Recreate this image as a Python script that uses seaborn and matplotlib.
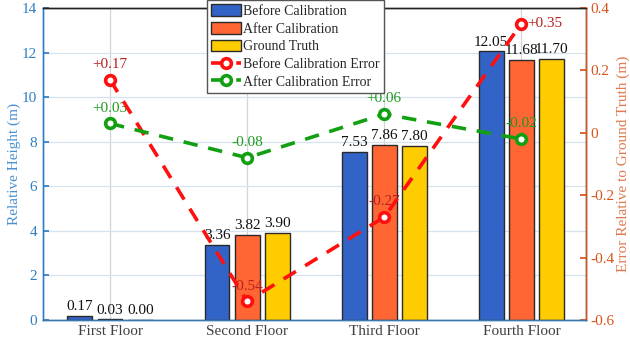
import numpy as np
import pandas as pd
import matplotlib
matplotlib.use("Agg")
import matplotlib.pyplot as plt
import seaborn as sns
from matplotlib.patches import Patch

floors = ["First Floor", "Second Floor", "Third Floor", "Fourth Floor"]
before_cal = [0.17, 3.36, 7.53, 12.05]
after_cal = [0.03, 3.82, 7.86, 11.68]
ground_truth = [0.00, 3.90, 7.80, 11.70]
before_err = [0.17, -0.54, -0.27, 0.35]
after_err = [0.03, -0.08, 0.06, -0.02]
series_names = ["Before Calibration", "After Calibration", "Ground Truth"]
err_names = ["Before Calibration Error", "After Calibration Error"]

sns.set_theme(style="white")
plt.rcParams['font.family'] = ['Liberation Serif', 'DejaVu Serif']
plt.rcParams['font.size'] = 11

df = pd.DataFrame({
    "floor": floors * 3,
    "height": before_cal + after_cal + ground_truth,
    "series": [series_names[0]] * 4 + [series_names[1]] * 4 + [series_names[2]] * 4,
})

bar_colors = ["#3264c8", "#ff6633", "#ffcc00"]
blue_axis = "#2f7ec1"
orange_axis = "#d95319"

fig = plt.figure(figsize=(6.3, 3.46), dpi=100)
ax = fig.add_axes([0.068, 0.075, 0.862, 0.902])

sns.barplot(data=df, x="floor", y="height", hue="series", palette=bar_colors,
            saturation=1, width=0.66, gap=0.18, edgecolor="#2a2a2a", linewidth=1.0,
            ax=ax, legend=False, zorder=3)

for cont in ax.containers:
    ax.bar_label(cont, fmt="%.2f", padding=2, fontsize=11, color="#111111")

ax.set_xlim(-0.49, 3.47)
ax.set_ylim(0, 14)
ax.set_yticks(np.arange(0, 15, 2))
ax.set_xlabel("")
ax.set_ylabel("Relative Height (m)", color="#4a90d0", fontsize=11, labelpad=1)
ax.tick_params(axis="y", colors=blue_axis, labelsize=11, direction="in", length=4, pad=4)
ax.tick_params(axis="x", colors="#333333", labelcolor="#404040", labelsize=11, direction="in", length=4)
ax.grid(axis="y", color="#d5e3f0", linewidth=0.9, zorder=0)
ax.grid(axis="x", color="#d4d4d4", linewidth=0.9, zorder=0)
ax.set_axisbelow(True)
ax.spines["left"].set_color(blue_axis)
ax.spines["bottom"].set_color("#3a78b0")
ax.spines["top"].set_color("#222222")
for s in ax.spines.values():
    s.set_linewidth(1.0)

ax2 = ax.twinx()
x_idx = np.arange(len(floors))
red = "#ff1010"
green = "#12a012"
sns.lineplot(x=x_idx, y=before_err, ax=ax2, color=red, linestyle=(0, (4, 3)),
             linewidth=2.6, marker="o", markersize=7, markerfacecolor="white",
             markeredgecolor=red, markeredgewidth=2.6, label=err_names[0], zorder=5)
sns.lineplot(x=x_idx, y=after_err, ax=ax2, color=green, linestyle=(0, (4, 3)),
             linewidth=2.6, marker="o", markersize=7, markerfacecolor="white",
             markeredgecolor=green, markeredgewidth=2.6, label=err_names[1], zorder=5)
ax2.set_ylim(-0.6, 0.4)
ax2.set_yticks(np.arange(-0.6, 0.41, 0.2))
ax2.set_yticklabels(["-0.6", "-0.4", "-0.2", "0", "0.2", "0.4"])
ax2.set_ylabel("Error Relative to Ground Truth (m)", color="#e07a50", fontsize=11, labelpad=2)
ax2.tick_params(axis="y", colors=orange_axis, labelsize=11, direction="in", length=4, pad=3)
ax2.spines["right"].set_color(orange_axis)
ax2.spines["left"].set_color(blue_axis)
ax2.spines["bottom"].set_color("#3a78b0")
ax2.spines["top"].set_color("#222222")
for s in ax2.spines.values():
    s.set_linewidth(1.0)
ax2.grid(False)

for i, v in enumerate(before_err):
    txt = f"{v:+.2f}"
    if i == len(before_err) - 1:
        ax2.annotate(txt, (x_idx[i], v), xytext=(4.5, 0), textcoords="offset points",
                     ha="left", va="center", color="#b52020", fontsize=11)
    else:
        ax2.annotate(txt, (x_idx[i], v), xytext=(0, 11), textcoords="offset points",
                     ha="center", va="center", color="#b52020", fontsize=11)
for i, v in enumerate(after_err):
    ax2.annotate(f"{v:+.2f}", (x_idx[i], v), xytext=(0, 11), textcoords="offset points",
                 ha="center", va="center", color="#1f9a1f", fontsize=11)

handles = [Patch(facecolor=c, edgecolor="#2a2a2a", linewidth=1.0) for c in bar_colors]
lh, ll = ax2.get_legend_handles_labels()
if ax2.get_legend() is not None:
    ax2.get_legend().remove()
leg = ax2.legend(handles + lh, series_names + ll, loc="upper center",
                 bbox_to_anchor=(0.465, 1.025), fontsize=10, frameon=True,
                 fancybox=False, framealpha=1, edgecolor="#555555",
                 labelspacing=0.3, handletextpad=0.15, borderpad=0.3,
                 handlelength=2.2, handleheight=0.9, borderaxespad=0)
leg.get_frame().set_linewidth(1.0)
leg.set_zorder(10)

fig.savefig("out.png", dpi=100)
